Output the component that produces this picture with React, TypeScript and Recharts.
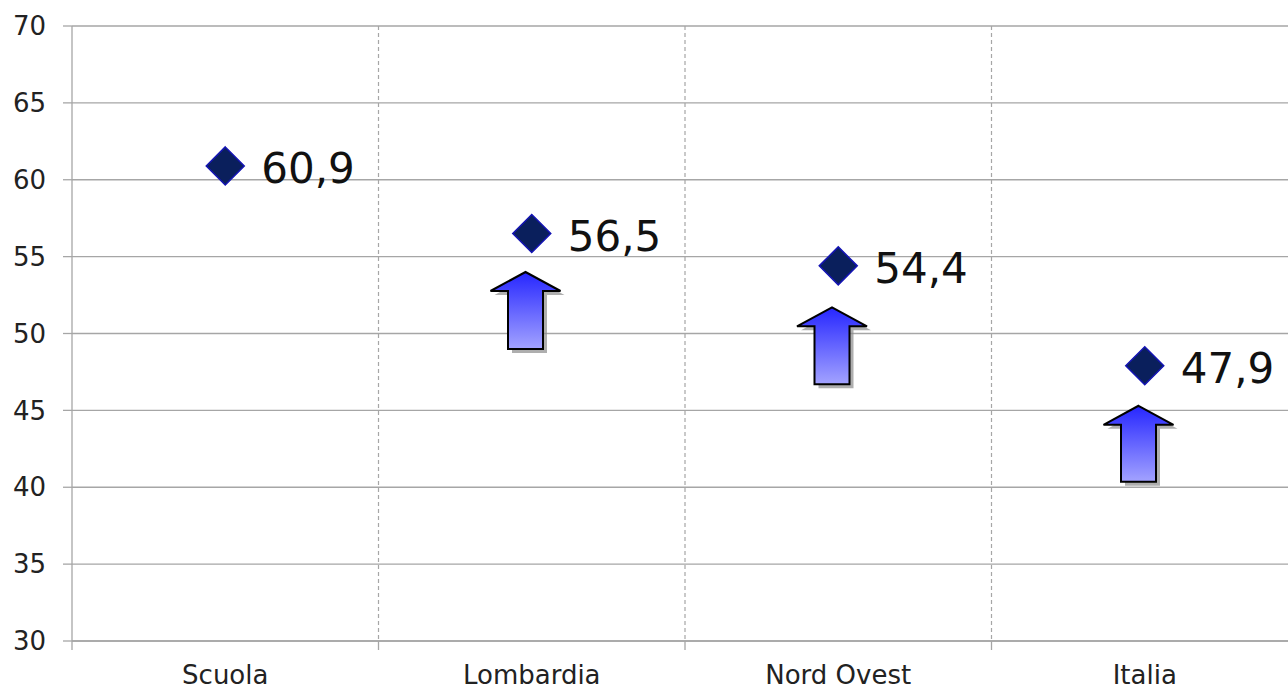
import React from "react";
import {
  Bar,
  CartesianGrid,
  ComposedChart,
  Scatter,
  XAxis,
  YAxis,
} from "recharts";

const CATEGORIES = ["Scuola", "Lombardia", "Nord Ovest", "Italia"];
const VALUES = [60.9, 56.5, 54.4, 47.9];
const ARROW_LOW: Array<number | null> = [null, 49.0, 46.7, 40.35];
const ARROW_HIGH: Array<number | null> = [null, 54.0, 51.7, 45.3];
const Y_TICKS = [30, 35, 40, 45, 50, 55, 60, 65, 70];

const data = CATEGORIES.map((name, i) => ({
  name,
  value: VALUES[i],
  arrow: ARROW_LOW[i] == null ? null : [ARROW_LOW[i], ARROW_HIGH[i]],
}));

const FONT = "'DejaVu Sans', Verdana, sans-serif";
const GRID = "#a6a6a6";

const Diamond = (props: any) => {
  const { cx, cy, payload } = props;
  const r = 19;
  return (
    <g>
      <polygon
        points={`${cx},${cy - r} ${cx + r},${cy} ${cx},${cy + r} ${cx - r},${cy}`}
        fill="#0a1f5c"
        stroke="#1414b4"
        strokeWidth={1.5}
      />
      <text x={cx + 36} y={cy + 17} fontSize={42} fontFamily={FONT} fill="#111">
        {String(payload.value).replace(".", ",")}
      </text>
    </g>
  );
};

const Arrow = (props: any) => {
  const { x, y, width, height } = props;
  if (width == null || height == null || !isFinite(height)) return null;
  const top = Math.min(y, y + height);
  const h = Math.abs(height);
  const cx = x + width / 2 - 6;
  const hw = 35;
  const sw = 17.5;
  const hh = 19;
  const pts = (dx: number, dy: number) =>
    [
      [cx, top],
      [cx + hw, top + hh],
      [cx + sw, top + hh],
      [cx + sw, top + h],
      [cx - sw, top + h],
      [cx - sw, top + hh],
      [cx - hw, top + hh],
    ]
      .map(([px, py]) => `${px + dx},${py + dy}`)
      .join(" ");
  return (
    <g>
      <polygon points={pts(4, 4)} fill="#8c8c8c" opacity={0.7} />
      <polygon points={pts(0, 0)} fill="url(#arrowGrad)" stroke="#000" strokeWidth={2} />
    </g>
  );
};

// category label at band centre, tick mark at band boundary (Excel style)
const CategoryTick = (props: any) => {
  const { x, y, width, visibleTicksCount, payload, index } = props;
  const band = width / (visibleTicksCount || CATEGORIES.length);
  const marks = [x - band / 2];
  if (index === visibleTicksCount - 1) marks.push(x + band / 2);
  return (
    <g>
      {marks.map((mx, i) => (
        <line key={i} x1={mx} x2={mx} y1={y} y2={y + 9} stroke={GRID} strokeWidth={1.3} />
      ))}
      <text x={x} y={y + 43} textAnchor="middle" fontSize={26} fontFamily={FONT} fill="#222">
        {payload.value}
      </text>
    </g>
  );
};

export default function App() {
  return (
    <div style={{ position: "absolute", left: 0, top: 0, width: 1288, height: 688, overflow: "hidden", background: "#fff" }}>
      <ComposedChart
        width={1300}
        height={688}
        data={data}
        margin={{ top: 26, right: 2, bottom: 0, left: 0 }}
      >
        <defs>
          <linearGradient id="arrowGrad" x1="0" y1="0" x2="0" y2="1">
            <stop offset="0%" stopColor="#2626ff" />
            <stop offset="100%" stopColor="#a3a3ff" />
          </linearGradient>
        </defs>
        <CartesianGrid vertical={false} stroke={GRID} strokeWidth={1.3} />
        <CartesianGrid
          horizontal={false}
          stroke={GRID}
          strokeWidth={1.2}
          strokeDasharray="4 3"
          verticalCoordinatesGenerator={({ offset }: any) =>
            CATEGORIES.slice(1).map((_, i) => offset.left + (offset.width * (i + 1)) / CATEGORIES.length)
          }
        />
        <XAxis
          dataKey="name"
          tickLine={false}
          tickSize={0}
          tickMargin={0}
          axisLine={{ stroke: GRID, strokeWidth: 1.3 }}
          tick={<CategoryTick />}
          height={47}
          interval={0}
        />
        <YAxis
          domain={[30, 70]}
          ticks={Y_TICKS}
          interval={0}
          width={72}
          tickSize={9}
          tickMargin={17}
          axisLine={{ stroke: GRID, strokeWidth: 1.3 }}
          tickLine={{ stroke: GRID, strokeWidth: 1.3 }}
          tick={{ fontSize: 26, fill: "#222", fontFamily: FONT }}
        />
        <Bar dataKey="arrow" barSize={70} shape={<Arrow />} isAnimationActive={false} />
        <Scatter dataKey="value" shape={<Diamond />} isAnimationActive={false} />
      </ComposedChart>
    </div>
  );
}
